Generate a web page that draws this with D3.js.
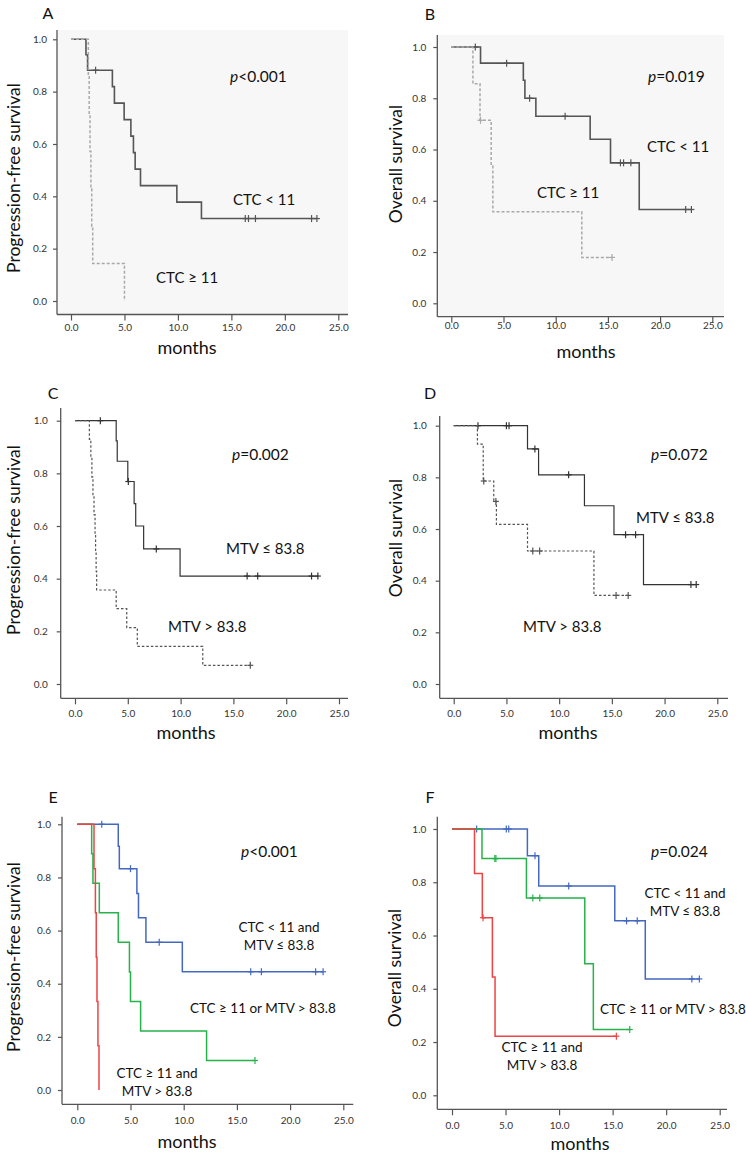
<!DOCTYPE html>
<html><head><meta charset="utf-8">
<script src="https://cdn.jsdelivr.net/npm/d3@7"></script>
<style>body{margin:0;background:#fff} svg{display:block}</style>
</head><body>
<script>
// ---------------- DATA ----------------
const monthTicks = [0, 5, 10, 15, 20, 25];
const survTicks = [0, 0.2, 0.4, 0.6, 0.8, 1.0];
const panelLetters = ["A", "B", "C", "D", "E", "F"];
const yTitles = ["Progression-free survival", "Overall survival", "Progression-free survival", "Overall survival", "Progression-free survival", "Overall survival"];
const xTitle = "months";
const pTexts = ["<0.001", "=0.019", "=0.002", "=0.072", "<0.001", "=0.024"];

// group labels (lines of text)
const ctcLowLabel = ["CTC < 11"];
const ctcHighLabel = ["CTC \u2265 11"];
const mtvLowLabel = ["MTV \u2264 83.8"];
const mtvHighLabel = ["MTV > 83.8"];
const bothGoodLabel = ["CTC < 11 and", "MTV \u2264 83.8"];
const eitherLabel = ["CTC \u2265 11 or MTV > 83.8"];
const bothBadLabel = ["CTC \u2265 11 and", "MTV > 83.8"];

// Panel A: PFS by CTC  [month, survival after drop]
const aLowEvents = [[1.4,0.941],[1.55,0.882],[3.87,0.819],[4.06,0.756],[4.97,0.693],[5.6,0.630],[5.84,0.567],[6.0,0.504],[6.5,0.441],[9.9,0.378],[12.2,0.315]];
const aLowCensor = [2.3,16.3,16.6,17.25,22.5,23.0];
const aHighEvents = [[1.62,0.857],[1.7,0.714],[1.78,0.571],[1.86,0.429],[1.94,0.286],[2.03,0.143],[5.0,0]];
const aHighCensor = [];

// Panel B: OS by CTC
const bLowEvents = [[2.8,0.937],[6.9,0.87],[7.05,0.80],[8.1,0.73],[13.3,0.64],[15.25,0.548],[18.0,0.366]];
const bLowCensor = [2.3,5.3,7.5,10.9,16.2,16.5,17.2,22.45,23.0];
const bHighEvents = [[2.07,0.857],[2.75,0.714],[3.82,0.536],[3.98,0.357],[12.5,0.179]];
const bHighCensor = [2.8,15.4];

// Panel C: PFS by MTV
const cLowEvents = [[3.9,0.923],[4.0,0.846],[5.0,0.769],[5.6,0.685],[5.75,0.60],[6.5,0.513],[9.95,0.41]];
const cLowCensor = [2.4,5.05,7.7,16.3,17.3,22.4,23.0];
const cHighEvents = [[1.36,0.929],[1.5,0.857],[1.6,0.786],[1.7,0.714],[1.8,0.643],[1.9,0.571],[1.95,0.5],[2.0,0.429],[2.05,0.357],[3.9,0.286],[4.9,0.214],[5.9,0.143],[12.1,0.071]];
const cHighCensor = [16.6];

// Panel D: OS by MTV
const dLowEvents = [[7.0,0.91],[8.05,0.81],[12.4,0.69],[15.2,0.578],[18.0,0.385]];
const dLowCensor = [2.3,5.0,5.25,7.7,10.9,16.3,17.25,22.5,23.0];
const dHighEvents = [[2.25,0.929],[2.8,0.786],[3.8,0.707],[4.05,0.618],[7.0,0.515],[13.3,0.343]];
const dHighCensor = [2.85,4.0,7.5,8.15,15.4,16.55];

// Panel E: PFS by combined CTC/MTV
const eGoodEvents = [[3.85,0.917],[3.95,0.833],[5.6,0.74],[5.75,0.648],[6.45,0.556],[9.87,0.445]];
const eGoodCensor = [2.3,5.0,7.7,16.3,17.3,22.4,23.1];
const eMidEvents = [[1.35,0.889],[1.47,0.778],[2.07,0.667],[3.85,0.556],[4.9,0.444],[5.0,0.333],[5.95,0.222],[12.15,0.111]];
const eMidCensor = [16.7];
const eBadEvents = [[1.57,0.833],[1.7,0.667],[1.78,0.5],[1.85,0.333],[1.94,0.167],[2.04,0]];
const eBadCensor = [];

// Panel F: OS by combined CTC/MTV
const fGoodEvents = [[7.04,0.9],[8.1,0.786],[15.2,0.655],[18.05,0.437]];
const fGoodCensor = [2.3,5.07,5.3,7.75,10.9,16.3,17.3,22.4,23.1];
const fMidEvents = [[2.8,0.889],[6.95,0.741],[12.4,0.494],[13.2,0.247]];
const fMidCensor = [4.0,4.1,7.55,8.2,16.6];
const fBadEvents = [[2.1,0.833],[2.83,0.667],[3.77,0.444],[4.02,0.222]];
const fBadCensor = [2.9,15.35];

// ---------------- STYLES / LAYOUT ----------------
const FONT = "Lato, 'Open Sans', sans-serif";
const st = {
  grayLow: {color:"#555", width:1.6, dash:null},
  grayHigh:{color:"#a9a9a9", width:1.5, dash:"3,2"},
  blkLow:  {color:"#333", width:1.2, dash:null},
  blkHigh: {color:"#555", width:1.2, dash:"2.5,2"},
  blue:    {color:"#4468c0", width:1.5, dash:null},
  green:   {color:"#25b34a", width:1.5, dash:null},
  red:     {color:"#ee4444", width:1.5, dash:null}
};

// tickY = vertical centre of x tick labels
const panels = [
  {x0:71, x25:338.3, yT:39.3, yB:301, axX:57, axTop:30, axY:314.5, axR:348, bg:true, tickY:327, tickGap:10,
   mX:187, mY:354, tX:13, tY:178, lX:48, lY:19, pX:230, pY:82,
   curves:[{ev:aLowEvents,ce:aLowCensor,s:st.grayLow},{ev:aHighEvents,ce:aHighCensor,s:st.grayHigh}],
   labels:[{t:ctcLowLabel,x:233,y:205,a:"start"},{t:ctcHighLabel,x:156,y:283,a:"start"}], fs:15},
  {x0:451.3, x25:712.3, yT:47, yB:303.3, axX:437.3, axTop:35, axY:316.7, axR:724, bg:true, tickY:325, tickGap:11,
   mX:586, mY:358, tX:395, tY:164, lX:430, lY:20, pX:648, pY:82,
   curves:[{ev:bLowEvents,ce:bLowCensor,s:st.grayLow},{ev:bHighEvents,ce:bHighCensor,s:st.grayHigh}],
   labels:[{t:ctcLowLabel,x:647,y:152,a:"start"},{t:ctcHighLabel,x:537,y:198,a:"start"}], fs:15},
  {x0:75, x25:339, yT:420.7, yB:684, axX:60.7, axTop:408, axY:698.3, axR:348, bg:false, tickY:713, tickGap:13,
   mX:186, mY:739, tX:13, tY:540, lX:53, lY:399, pX:232, pY:460,
   curves:[{ev:cLowEvents,ce:cLowCensor,s:st.blkLow},{ev:cHighEvents,ce:cHighCensor,s:st.blkHigh}],
   labels:[{t:mtvLowLabel,x:226,y:554,a:"start"},{t:mtvHighLabel,x:168,y:632,a:"start"}], fs:15},
  {x0:453.7, x25:717.3, yT:425.7, yB:684, axX:439.7, axTop:416, axY:698.3, axR:728, bg:false, tickY:713, tickGap:13,
   mX:568, mY:739, tX:395, tY:538, lX:430, lY:399, pX:651, pY:460,
   curves:[{ev:dLowEvents,ce:dLowCensor,s:st.blkLow},{ev:dHighEvents,ce:dHighCensor,s:st.blkHigh}],
   labels:[{t:mtvLowLabel,x:636,y:523,a:"start"},{t:mtvHighLabel,x:523,y:632,a:"start"}], fs:15},
  {x0:77.3, x25:343.3, yT:824.3, yB:1090, axX:62, axTop:816.7, axY:1104.3, axR:353.3, bg:false, tickY:1120, tickGap:11,
   mX:187, mY:1148, tX:13, tY:957, lX:53, lY:803, pX:241, pY:857,
   curves:[{ev:eGoodEvents,ce:eGoodCensor,s:st.blue},{ev:eMidEvents,ce:eMidCensor,s:st.green},{ev:eBadEvents,ce:eBadCensor,s:st.red}],
   labels:[{t:bothGoodLabel,x:279,y:932,a:"middle"},{t:eitherLabel,x:190,y:1013,a:"start"},{t:bothBadLabel,x:157,y:1078,a:"middle"}], fs:13.5},
  {x0:452, x25:719.7, yT:829, yB:1095.3, axX:437.3, axTop:816.7, axY:1109.3, axR:727, bg:false, tickY:1125, tickGap:11,
   mX:580, mY:1150, tX:394, tY:968, lX:430, lY:803, pX:651, pY:857,
   curves:[{ev:fGoodEvents,ce:fGoodCensor,s:st.blue},{ev:fMidEvents,ce:fMidCensor,s:st.green},{ev:fBadEvents,ce:fBadCensor,s:st.red}],
   labels:[{t:bothGoodLabel,x:685,y:898,a:"middle"},{t:eitherLabel,x:600,y:1014,a:"start"},{t:bothBadLabel,x:542,y:1052,a:"middle"}], fs:13.5}
];

// ---------------- DRAW ----------------
const W = 746, H = 1153;
const svg = d3.select("body").append("svg").attr("width", W).attr("height", H)
  .style("font-family", FONT);

function survAt(events, t) { let s = 1; for (const [et, v] of events) if (et <= t) s = v; return s; }
function stepPts(events, censors) {
  const lastEv = events.length ? events[events.length-1][0] : 0;
  const end = Math.max(lastEv, censors.length ? d3.max(censors) : 0);
  const pts = [[0,1]]; let s = 1;
  for (const [t, v] of events) { pts.push([t, s]); pts.push([t, v]); s = v; }
  pts.push([end, s]);
  return pts;
}

panels.forEach((p, i) => {
  const g = svg.append("g");
  const x = d3.scaleLinear().domain([0, 25]).range([p.x0, p.x25]);
  const y = d3.scaleLinear().domain([0, 1]).range([p.yB, p.yT]);

  if (p.bg) g.append("rect").attr("x", p.axX).attr("y", p.axTop)
     .attr("width", p.axR - p.axX).attr("height", p.axY - p.axTop).attr("fill", "#f7f7f7");

  // y axis
  const yAxis = d3.axisLeft(y).tickValues(survTicks).tickFormat(d3.format(".1f")).tickSize(4).tickPadding(p.tickGap - 4);
  const ya = g.append("g").attr("transform", `translate(${p.axX},0)`).call(yAxis);
  ya.select(".domain").remove();
  g.append("line").attr("x1", p.axX).attr("x2", p.axX).attr("y1", p.axTop).attr("y2", p.axY)
    .attr("stroke", "#555").attr("stroke-width", 1.3);

  // x axis
  const xAxis = d3.axisBottom(x).tickValues(monthTicks).tickFormat(d3.format(".1f")).tickSize(6)
    .tickPadding(p.tickY - 3.5 - p.axY - 6);
  const xa = g.append("g").attr("transform", `translate(0,${p.axY})`).call(xAxis);
  xa.select(".domain").remove();
  g.append("line").attr("x1", p.axX).attr("x2", p.axR).attr("y1", p.axY).attr("y2", p.axY)
    .attr("stroke", "#555").attr("stroke-width", 1.3);

  [ya, xa].forEach(a => {
    a.selectAll(".tick line").attr("stroke", "#555").attr("stroke-width", 1.2);
    a.selectAll(".tick text").attr("fill", "#333").style("font-size", "10px").style("font-family", FONT);
  });

  // curves
  p.curves.forEach(c => {
    const line = d3.line().x(d => x(d[0])).y(d => y(d[1]));
    g.append("path").attr("d", line(stepPts(c.ev, c.ce))).attr("fill", "none")
      .attr("stroke", c.s.color).attr("stroke-width", c.s.width)
      .attr("stroke-dasharray", c.s.dash);
    c.ce.forEach(t => {
      const cx = x(t), cy = y(survAt(c.ev, t));
      g.append("line").attr("x1", cx).attr("x2", cx).attr("y1", cy - 3.5).attr("y2", cy + 3.5)
        .attr("stroke", c.s.color).attr("stroke-width", 1.2);
      g.append("line").attr("x1", cx - 3).attr("x2", cx + 3).attr("y1", cy).attr("y2", cy)
        .attr("stroke", c.s.color).attr("stroke-width", 1.2);
    });
  });

  // texts
  g.append("text").attr("x", p.lX).attr("y", p.lY).attr("text-anchor", "middle")
    .style("font-size", "16px").attr("fill", "#111").text(panelLetters[i]);
  g.append("text").attr("transform", `translate(${p.tX},${p.tY}) rotate(-90)`)
    .attr("text-anchor", "middle").attr("dominant-baseline", "central")
    .style("font-size", "17.5px").attr("fill", "#111").text(yTitles[i]);
  g.append("text").attr("x", p.mX).attr("y", p.mY).attr("text-anchor", "middle")
    .style("font-size", "18px").attr("fill", "#111").text(xTitle);
  const pt = g.append("text").attr("x", p.pX).attr("y", p.pY).style("font-size", "15.5px").attr("fill", "#111");
  pt.append("tspan").style("font-style", "italic").text("p");
  pt.append("tspan").text(pTexts[i]);
  p.labels.forEach(l => {
    const t = g.append("text").attr("text-anchor", l.a).style("font-size", p.fs + "px").attr("fill", "#111");
    l.t.forEach((line, k) => t.append("tspan").attr("x", l.x).attr("y", l.y + k * 18).text(line));
  });
});
</script>
</body></html>
